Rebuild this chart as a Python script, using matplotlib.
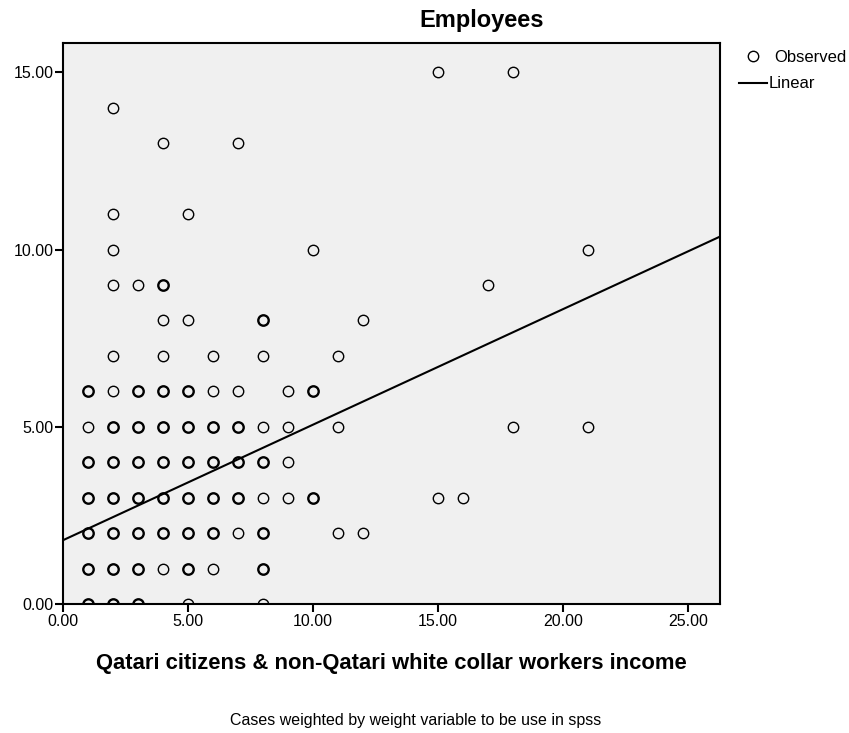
import matplotlib
matplotlib.use("Agg")
import matplotlib.pyplot as plt
from matplotlib.lines import Line2D

plt.rcParams["font.family"] = ["Liberation Sans", "DejaVu Sans"]

# Observed cases: income (x), employees (y), overlap (1 = single, 2 = several cases)
income = [1, 1, 1, 1, 1, 1, 1,
          2, 2, 2, 2, 2, 2, 2, 2, 2, 2, 2, 2,
          3, 3, 3, 3, 3, 3, 3, 3,
          4, 4, 4, 4, 4, 4, 4, 4, 4, 4,
          5, 5, 5, 5, 5, 5, 5, 5, 5,
          6, 6, 6, 6, 6, 6, 6,
          7, 7, 7, 7, 7, 7,
          8, 8, 8, 8, 8, 8, 8, 8,
          9, 9, 9, 9,
          10, 10, 10,
          11, 11, 11,
          12, 12,
          15, 15, 16, 17, 18, 18, 21, 21]
employees = [0, 1, 2, 3, 4, 5, 6,
             0, 1, 2, 3, 4, 5, 6, 7, 9, 10, 11, 14,
             0, 1, 2, 3, 4, 5, 6, 9,
             1, 2, 3, 4, 5, 6, 7, 8, 9, 13,
             0, 1, 2, 3, 4, 5, 6, 8, 11,
             1, 2, 3, 4, 5, 6, 7,
             2, 3, 4, 5, 6, 13,
             0, 1, 2, 3, 4, 5, 7, 8,
             3, 4, 5, 6,
             3, 6, 10,
             2, 5, 7,
             2, 8,
             3, 15, 3, 9, 5, 15, 5, 10]
overlap = [2, 2, 2, 2, 2, 1, 2,
           2, 2, 2, 2, 2, 2, 1, 1, 1, 1, 1, 1,
           2, 2, 2, 2, 2, 2, 2, 1,
           1, 2, 2, 2, 2, 2, 1, 1, 2, 1,
           1, 2, 2, 2, 2, 2, 2, 1, 1,
           1, 2, 2, 2, 2, 1, 1,
           1, 2, 2, 2, 1, 1,
           1, 2, 2, 1, 2, 1, 1, 2,
           1, 1, 1, 1,
           2, 2, 1,
           1, 1, 1,
           1, 1,
           1, 1, 1, 1, 1, 1, 1, 1]

# weighted linear fit
intercept = 1.8
slope = 0.326

fig = plt.figure(figsize=(8.49, 7.33), dpi=100)
ax = fig.add_axes([63 / 849, 129 / 733, 657 / 849, 561 / 733])
ax.set_facecolor("#f0f0f0")

thin_x = [x for x, o in zip(income, overlap) if o == 1]
thin_y = [y for y, o in zip(employees, overlap) if o == 1]
bold_x = [x for x, o in zip(income, overlap) if o == 2]
bold_y = [y for y, o in zip(employees, overlap) if o == 2]
ax.plot(thin_x, thin_y, "o", ms=7.5, mfc="none", mec="black", mew=1.0, zorder=3)
ax.plot(bold_x, bold_y, "o", ms=7.5, mfc="none", mec="black", mew=1.7, zorder=3)

ax.set_xlim(0, 26.28)
ax.set_ylim(0, 15.83)
xs = [0, 26.28]
ax.plot(xs, [intercept + slope * v for v in xs], color="black", lw=1.5, zorder=2)

ax.set_xticks([0, 5, 10, 15, 20, 25])
ax.set_yticks([0, 5, 10, 15])
ax.xaxis.set_major_formatter(lambda v, p: f"{v:.2f}")
ax.yaxis.set_major_formatter(lambda v, p: f"{v:.2f}")
ax.tick_params(direction="out", length=6, width=1.5, labelsize=11.5, pad=1)
for s in ax.spines.values():
    s.set_linewidth(1.5)

fig.text(482 / 849, 1 - 21 / 733, "Employees", ha="center", va="center",
         fontsize=17, fontweight="bold")
fig.text(391 / 849, 1 - 663 / 733,
         "Qatari citizens & non-Qatari white collar workers income",
         ha="center", va="center", fontsize=15.8, fontweight="bold")
fig.text(416 / 849, 1 - 721 / 733,
         "Cases weighted by weight variable to be use in spss",
         ha="center", va="center", fontsize=11.5)

# legend, SPSS style
fig.add_artist(Line2D([753 / 849], [1 - 56 / 733], ls="none", marker="o", ms=7.5,
                      mfc="none", mec="black", mew=1.0))
fig.add_artist(Line2D([739 / 849, 767 / 849], [1 - 83 / 733, 1 - 83 / 733],
                      color="black", lw=1.5))
fig.text(774 / 849, 1 - 57 / 733, "Observed", ha="left", va="center", fontsize=12)
fig.text(769 / 849, 1 - 83 / 733, "Linear", ha="left", va="center", fontsize=12)

fig.savefig("out.png", dpi=100)
